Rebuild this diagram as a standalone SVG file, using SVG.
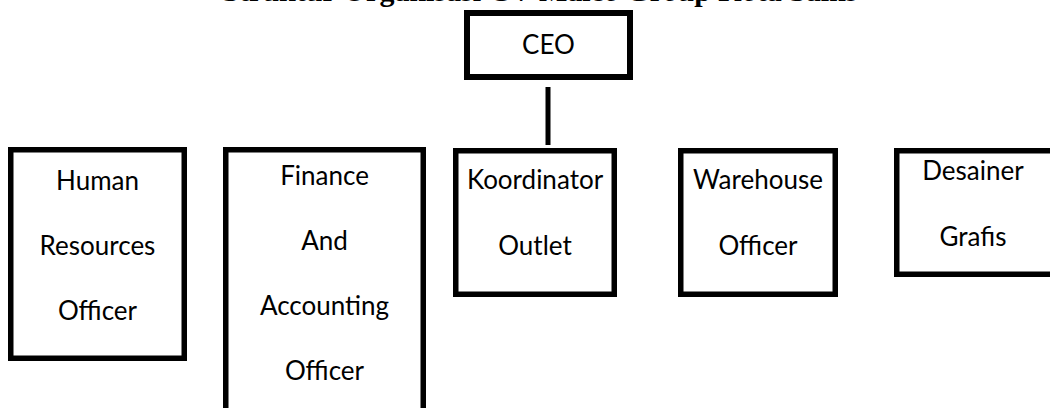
<svg xmlns="http://www.w3.org/2000/svg" width="1050" height="408" viewBox="0 0 1050 408">
<style>
.box{fill:#fff;stroke:#000;stroke-width:5.5}
.lbl{font-family:Lato,"Open Sans",sans-serif;font-size:26px;fill:#000;text-anchor:middle}
.title{font-family:"Liberation Serif",serif;font-weight:bold;font-size:30px;fill:#000;text-anchor:middle}
.conn{stroke:#000;stroke-width:5;fill:none}
</style>
<rect width="1050" height="408" fill="#fff"/>
<text class="title" x="540" y="1">Struktur Organisasi CV Maleo Group Kota Sains</text>
<g id="connectors">
<line class="conn" x1="548" y1="87" x2="548" y2="145"/>
</g>
<g id="ceo">
<rect class="box" x="467" y="13" width="163" height="64" style="stroke-width:6"/>
<text class="lbl" x="548.5" y="54">CEO</text>
</g>
<g id="hr">
<rect class="box" x="10.75" y="149.75" width="173.5" height="208.5"/>
<text class="lbl" x="97.5" y="190">Human</text>
<text class="lbl" x="97.5" y="255">Resources</text>
<text class="lbl" x="97.5" y="320">Officer</text>
</g>
<g id="finance">
<rect class="box" x="225.75" y="149.75" width="197.5" height="270"/>
<text class="lbl" x="324.5" y="185">Finance</text>
<text class="lbl" x="324.5" y="250">And</text>
<text class="lbl" x="324.5" y="315">Accounting</text>
<text class="lbl" x="324.5" y="380">Officer</text>
</g>
<g id="koordinator">
<rect class="box" x="455.75" y="150.75" width="158.5" height="143.5"/>
<text class="lbl" x="535" y="189">Koordinator</text>
<text class="lbl" x="535" y="255">Outlet</text>
</g>
<g id="warehouse">
<rect class="box" x="680.75" y="150.75" width="154.5" height="143.5"/>
<text class="lbl" x="758" y="189">Warehouse</text>
<text class="lbl" x="758" y="255">Officer</text>
</g>
<g id="desainer">
<rect class="box" x="896.75" y="150.75" width="158" height="123.5"/>
<text class="lbl" x="973" y="180">Desainer</text>
<text class="lbl" x="973" y="246">Grafis</text>
</g>
</svg>
